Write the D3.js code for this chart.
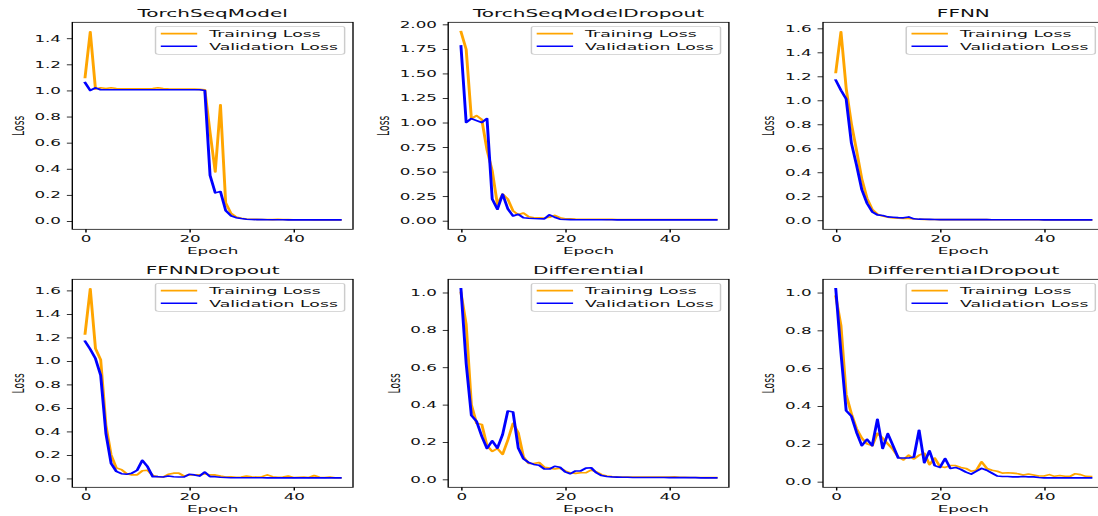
<!DOCTYPE html>
<html><head><meta charset="utf-8">
<script src="https://cdn.jsdelivr.net/npm/d3@7"></script>
<style>body{margin:0;background:#fff}svg{display:block}</style>
</head><body>
<svg id="chart" width="1098" height="516"></svg>
<script>
// ---------------- data ----------------
const titles = ["TorchSeqModel","TorchSeqModelDropout","FFNN","FFNNDropout","Differential","DifferentialDropout"];
const seriesNames = ["Training Loss","Validation Loss"];
const xTickValues = [0,20,40];

const torchTrain = [1.10,1.45,1.01,1.02,1.015,1.02,1.015,1.012,1.012,1.012,1.012,1.012,1.012,1.015,1.02,1.015,1.012,1.01,1.01,1.01,1.01,1.01,1.008,1.005,0.68,0.375,0.89,0.14,0.06,0.03,0.02,0.015,0.013,0.012,0.011,0.011,0.01,0.012,0.011,0.01,0.009,0.009,0.009,0.009,0.008,0.008,0.008,0.008,0.008,0.008];
const torchVal = [1.06,1.0,1.02,1.005,1.005,1.005,1.005,1.005,1.005,1.005,1.005,1.005,1.005,1.005,1.005,1.005,1.005,1.005,1.005,1.005,1.005,1.005,1.005,1.0,0.35,0.215,0.225,0.08,0.04,0.025,0.018,0.013,0.011,0.01,0.01,0.009,0.009,0.009,0.009,0.008,0.008,0.008,0.008,0.008,0.008,0.008,0.008,0.008,0.008,0.008];

const torchDropTrain = [1.925,1.745,1.04,1.07,1.03,0.72,0.51,0.165,0.27,0.22,0.1,0.06,0.078,0.04,0.03,0.03,0.028,0.035,0.054,0.03,0.02,0.018,0.016,0.015,0.015,0.014,0.014,0.015,0.013,0.013,0.012,0.012,0.012,0.012,0.012,0.012,0.012,0.012,0.012,0.012,0.012,0.012,0.012,0.012,0.012,0.012,0.012,0.012,0.012,0.012];
const torchDropVal = [1.78,1.0,1.04,1.02,1.0,1.04,0.22,0.116,0.27,0.12,0.048,0.065,0.03,0.025,0.022,0.02,0.018,0.06,0.035,0.015,0.012,0.011,0.01,0.01,0.01,0.01,0.01,0.01,0.01,0.01,0.008,0.008,0.008,0.008,0.008,0.008,0.008,0.008,0.008,0.008,0.008,0.008,0.008,0.008,0.008,0.008,0.008,0.008,0.008,0.008];

const ffnnTrain = [1.232,1.572,1.1,0.806,0.58,0.345,0.184,0.09,0.05,0.035,0.025,0.02,0.017,0.015,0.015,0.01,0.008,0.007,0.006,0.006,0.005,0.005,0.005,0.005,0.005,0.005,0.005,0.005,0.005,0.005,0.004,0.004,0.004,0.004,0.004,0.004,0.004,0.004,0.004,0.004,0.003,0.003,0.003,0.003,0.003,0.003,0.003,0.003,0.003,0.003];
const ffnnVal = [1.168,1.084,1.01,0.644,0.457,0.256,0.142,0.07,0.045,0.04,0.028,0.025,0.022,0.02,0.028,0.012,0.009,0.008,0.007,0.006,0.005,0.005,0.005,0.005,0.005,0.005,0.005,0.005,0.005,0.005,0.004,0.004,0.004,0.004,0.004,0.004,0.004,0.004,0.004,0.004,0.003,0.003,0.003,0.003,0.003,0.003,0.003,0.003,0.003,0.003];

const ffnnDropTrain = [1.23,1.614,1.105,1.01,0.455,0.2,0.09,0.075,0.04,0.03,0.03,0.065,0.07,0.025,0.015,0.012,0.035,0.045,0.045,0.02,0.03,0.03,0.03,0.04,0.03,0.03,0.02,0.012,0.015,0.01,0.012,0.02,0.015,0.012,0.015,0.03,0.015,0.01,0.012,0.02,0.008,0.01,0.012,0.008,0.025,0.01,0.008,0.012,0.006,0.006];
const ffnnDropVal = [1.167,1.1,1.02,0.877,0.384,0.128,0.06,0.04,0.035,0.045,0.07,0.154,0.1,0.015,0.015,0.012,0.02,0.015,0.012,0.012,0.035,0.03,0.02,0.054,0.015,0.015,0.01,0.008,0.006,0.006,0.006,0.006,0.006,0.006,0.006,0.005,0.005,0.005,0.005,0.005,0.005,0.005,0.005,0.005,0.005,0.005,0.005,0.005,0.005,0.005];

const diffTrain = [1.0,0.83,0.4,0.3,0.294,0.18,0.15,0.165,0.134,0.21,0.3,0.25,0.12,0.085,0.085,0.09,0.065,0.06,0.055,0.06,0.045,0.035,0.032,0.035,0.035,0.05,0.04,0.025,0.018,0.015,0.013,0.012,0.012,0.012,0.012,0.012,0.012,0.012,0.012,0.012,0.012,0.013,0.011,0.011,0.01,0.01,0.01,0.009,0.009,0.009];
const diffVal = [1.02,0.62,0.342,0.31,0.23,0.165,0.206,0.167,0.24,0.366,0.36,0.168,0.11,0.09,0.08,0.075,0.055,0.055,0.07,0.065,0.04,0.03,0.045,0.045,0.06,0.062,0.035,0.02,0.015,0.013,0.012,0.011,0.011,0.01,0.01,0.01,0.01,0.01,0.01,0.01,0.009,0.009,0.009,0.009,0.009,0.009,0.008,0.008,0.008,0.008];

const diffDropTrain = [0.98,0.825,0.46,0.36,0.28,0.23,0.2,0.19,0.256,0.23,0.2,0.17,0.13,0.115,0.14,0.12,0.14,0.15,0.09,0.125,0.08,0.075,0.085,0.085,0.075,0.07,0.055,0.06,0.105,0.07,0.06,0.055,0.045,0.047,0.045,0.042,0.035,0.04,0.035,0.03,0.03,0.037,0.028,0.032,0.028,0.028,0.042,0.037,0.028,0.027];
const diffDropVal = [1.02,0.68,0.375,0.346,0.26,0.19,0.224,0.19,0.33,0.175,0.254,0.19,0.125,0.125,0.125,0.13,0.272,0.1,0.163,0.085,0.075,0.122,0.07,0.075,0.065,0.05,0.04,0.055,0.07,0.06,0.045,0.03,0.027,0.027,0.025,0.025,0.027,0.025,0.025,0.022,0.02,0.02,0.02,0.02,0.02,0.02,0.02,0.02,0.02,0.02];

const yTicks1 = [0,0.2,0.4,0.6,0.8,1.0,1.2,1.4];
const yTicks2 = [0,0.25,0.5,0.75,1.0,1.25,1.5,1.75,2.0];
const yTicks3 = [0,0.2,0.4,0.6,0.8,1.0,1.2,1.4,1.6];
const yTicks4 = [0,0.2,0.4,0.6,0.8,1.0,1.2,1.4,1.6];
const yTicks5 = [0,0.2,0.4,0.6,0.8,1.0];
const yTicks6 = [0,0.2,0.4,0.6,0.8,1.0];

// ---------------- layout ----------------
const panels = [
  {title:titles[0], train:torchTrain,     val:torchVal,     ticks:yTicks1, fmt:".1f", col:0,row:0},
  {title:titles[1], train:torchDropTrain, val:torchDropVal, ticks:yTicks2, fmt:".2f", col:1,row:0},
  {title:titles[2], train:ffnnTrain,      val:ffnnVal,      ticks:yTicks3, fmt:".1f", col:2,row:0},
  {title:titles[3], train:ffnnDropTrain,  val:ffnnDropVal,  ticks:yTicks4, fmt:".1f", col:0,row:1},
  {title:titles[4], train:diffTrain,      val:diffVal,      ticks:yTicks5, fmt:".1f", col:1,row:1},
  {title:titles[5], train:diffDropTrain,  val:diffDropVal,  ticks:yTicks6, fmt:".1f", col:2,row:1}
];
const SX = 1.82;                 // horizontal stretch of the whole figure
const colLeft = [72.3, 448.2, 823];
const rowTop = [22.3, 279.3];
const rowH = [207, 208];
const axW = 280.7;
const FONT = "DejaVu Sans";
const FS = 9.2, LFS = 9.5, TFS = 11;
const colors = ["#FFA500","#0000FF"];

const svg = d3.select("#chart");
svg.append("rect").attr("width",1098).attr("height",516).attr("fill","#fff");
const root = svg.append("g").attr("transform",`scale(${SX},1)`);

panels.forEach(p => {
  const x0 = colLeft[p.col]/SX, w = axW/SX, y0 = rowTop[p.row], h = rowH[p.row];
  const n = p.train.length;
  const xs = d3.scaleLinear().domain([-(n-1)*0.05, (n-1)*1.05]).range([0,w]);
  const all = p.train.concat(p.val);
  const mn = d3.min(all), mx = d3.max(all), m = (mx-mn)*0.05;
  const ys = d3.scaleLinear().domain([mn-m, mx+m]).range([h,0]);
  const g = root.append("g").attr("transform",`translate(${x0},${y0})`);

  const line = d3.line().x((d,i)=>xs(i)).y(d=>ys(d));
  [p.train, p.val].forEach((s,k)=>{
    g.append("path").datum(s).attr("d",line)
      .attr("fill","none").attr("stroke",colors[k]).attr("stroke-width",1.6)
      .attr("stroke-linejoin","round").attr("stroke-linecap","square");
  });

  // axes
  const xa = g.append("g").attr("transform",`translate(0,${h})`)
    .call(d3.axisBottom(xs).tickValues(xTickValues).tickFormat(d3.format("d")).tickSize(3.2).tickPadding(3.0).tickSizeOuter(0));
  const ya = g.append("g")
    .call(d3.axisLeft(ys).tickValues(p.ticks).tickFormat(d3.format(p.fmt)).tickSize(3.0).tickPadding(3.2).tickSizeOuter(0));
  [xa,ya].forEach(a=>{
    a.select(".domain").remove();
    a.selectAll(".tick line").attr("stroke","#000").attr("stroke-width",0.8);
    a.selectAll(".tick text").attr("fill","#111").attr("font-family",FONT).attr("font-size",FS);
    a.attr("font-family",FONT).attr("font-size",FS);
  });

  // frame
  g.append("rect").attr("x",0).attr("y",0).attr("width",w).attr("height",h)
    .attr("fill","none").attr("stroke","#000").attr("stroke-width",0.75);

  // title
  g.append("text").attr("x",w/2).attr("y",-5.6).attr("text-anchor","middle")
    .attr("font-family",FONT).attr("font-size",TFS).attr("fill","#111").text(p.title);
  // x label
  g.append("text").attr("x",w/2).attr("y",h+24.7).attr("text-anchor","middle")
    .attr("font-family",FONT).attr("font-size",FS).attr("fill","#111").text("Epoch");
  // y label
  const bb = ya.node().getBBox();
  const lx = bb.x - 5.9;
  g.append("text").attr("transform",`translate(${lx},${h/2}) rotate(-90)`)
    .attr("text-anchor","middle").attr("font-family",FONT).attr("font-size",FS).attr("fill","#111").text("Loss");

  // legend
  const lg = g.append("g");
  const texts = [];
  const tmp = lg.append("g");
  seriesNames.forEach(s=>{
    texts.push(tmp.append("text").attr("font-family",FONT).attr("font-size",LFS).text(s).node().getComputedTextLength());
  });
  tmp.remove();
  const tw = d3.max(texts);
  const bp = 3.7, hl = 18.4, htp = 7.4;
  const lw = bp + hl + htp + tw + bp, lh = 28;
  const lxp = w - 4.6 - lw, lyp = 4.0;
  lg.append("rect").attr("x",lxp).attr("y",lyp).attr("width",lw).attr("height",lh)
    .attr("rx",1.8).attr("fill","#fff").attr("fill-opacity",0.8)
    .attr("stroke","#cccccc").attr("stroke-width",0.8);
  seriesNames.forEach((s,k)=>{
    const cy = lyp + 7.3 + k*12.7;
    lg.append("line").attr("x1",lxp+bp).attr("x2",lxp+bp+hl).attr("y1",cy).attr("y2",cy)
      .attr("stroke",colors[k]).attr("stroke-width",1.6).attr("stroke-linecap","square");
    lg.append("text").attr("x",lxp+bp+hl+htp).attr("y",cy).attr("dy","0.36em")
      .attr("font-family",FONT).attr("font-size",LFS).attr("fill","#111").text(s);
  });
});
</script>
</body></html>
